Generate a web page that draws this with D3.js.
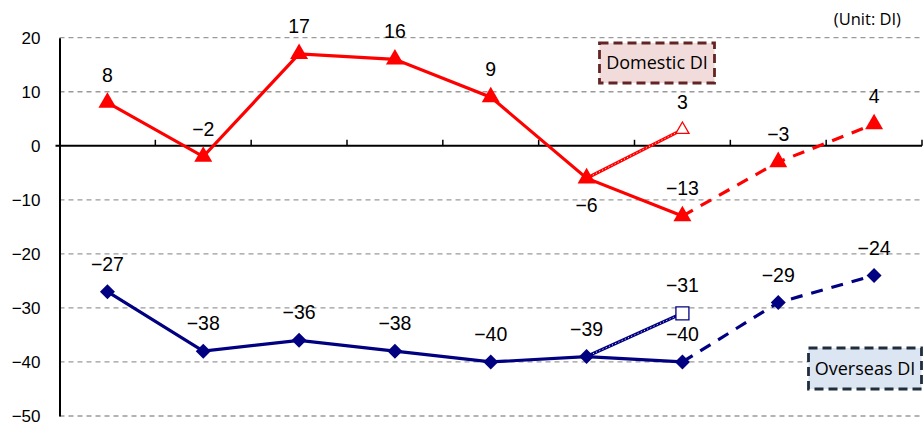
<!DOCTYPE html>
<html>
<head>
<meta charset="utf-8">
<script src="https://cdn.jsdelivr.net/npm/d3@7"></script>
<style>
  body { margin: 0; background: #fff; }
  text { font-family: "Liberation Sans", Arial, sans-serif; }
</style>
</head>
<body>
<svg width="923" height="423"></svg>
<script>
/* chart values */
var periods = ["p1", "p2", "p3", "p4", "p5", "p6", "p7", "p8", "p9"];
var yTicks = [20, 10, 0, -10, -20, -30, -40, -50];

var domesticActual = [8, -2, 17, 16, 9, -6, -13];        // periods 1-7
var domesticForecast = [-13, -3, 4];                     // periods 7-9
var domesticPrevious = [-6, 3];                          // periods 6-7

var overseasActual = [-27, -38, -36, -38, -40, -39, -40];
var overseasForecast = [-40, -29, -24];
var overseasPrevious = [-39, -31];

var svg = d3.select("svg"),
    plotLeft = 59.5, plotRight = 922, plotTop = 37.7, plotBottom = 416;

var x = d3.scaleBand().domain(periods).range([plotLeft, plotRight]);
var y = d3.scaleLinear().domain([-50, 20]).range([plotBottom, plotTop]);

function cx(i) { return x(periods[i]) + x.bandwidth() / 2; }

/* turn a series into points, starting at period index 'start' */
function pts(values, start) {
  return values.map(function(v, i) { return { i: start + i, v: v }; });
}

var line = d3.line()
    .x(function(d) { return cx(d.i); })
    .y(function(d) { return y(d.v); });

/* dashed gridlines */
svg.append("g").selectAll("line")
  .data(yTicks.filter(function(t) { return t !== 0; }))
  .enter().append("line")
    .attr("x1", plotLeft).attr("x2", plotRight)
    .attr("y1", function(d) { return y(d); })
    .attr("y2", function(d) { return y(d); })
    .attr("stroke", "#9a9a9a")
    .attr("stroke-width", 1.3)
    .attr("stroke-dasharray", "5,4");

/* y axis */
var yAxis = svg.append("g")
    .attr("transform", "translate(" + plotLeft + ",0)")
    .call(d3.axisLeft(y).tickValues(yTicks).tickSize(0).tickPadding(19)
      .tickFormat(function(d) { return String(d).replace("-", "\u2212"); }));
yAxis.select(".domain").attr("stroke", "#000").attr("stroke-width", 2);
yAxis.selectAll("text").attr("font-size", 17).attr("fill", "#000");

/* zero line with category tick marks */
svg.append("line")
    .attr("x1", plotLeft - 4).attr("x2", plotRight)
    .attr("y1", y(0)).attr("y2", y(0))
    .attr("stroke", "#000").attr("stroke-width", 2);

svg.append("g").selectAll("line")
  .data(periods)
  .enter().append("line")
    .attr("x1", function(d) { return x(d) + x.step(); })
    .attr("x2", function(d) { return x(d) + x.step(); })
    .attr("y1", y(0)).attr("y2", y(0) - 6)
    .attr("stroke", "#000").attr("stroke-width", 1.5);

/* draw one DI series */
function drawSeries(color, actual, forecast, previous, symbol, hollowSymbol, labelBelow) {
  var g = svg.append("g");

  var prevPts = pts(previous, actual.length - 2);
  g.append("path").datum(prevPts)
    .attr("d", line).attr("fill", "none")
    .attr("stroke", color).attr("stroke-width", 3.2);
  g.append("path").datum(prevPts)
    .attr("d", line).attr("fill", "none")
    .attr("stroke", "#fff").attr("stroke-width", 1)
    .attr("stroke-dasharray", "1,2.5");

  g.append("path").datum(pts(actual, 0))
    .attr("d", line).attr("fill", "none")
    .attr("stroke", color).attr("stroke-width", 3.2);

  var fcPts = pts(forecast, actual.length - 1);
  g.append("path").datum(fcPts)
    .attr("d", line).attr("fill", "none")
    .attr("stroke", color).attr("stroke-width", 3.2)
    .attr("stroke-dasharray", "12,9");

  var marks = pts(actual, 0).concat(fcPts.slice(1));
  g.selectAll(".mark").data(marks)
    .enter().append("path")
      .attr("class", "mark")
      .attr("d", symbol)
      .attr("transform", function(d) { return "translate(" + cx(d.i) + "," + y(d.v) + ")"; })
      .attr("fill", color);

  var hollow = prevPts[prevPts.length - 1];
  g.append("path")
    .attr("d", hollowSymbol)
    .attr("transform", "translate(" + cx(hollow.i) + "," + y(hollow.v) + ")")
    .attr("fill", "#fff").attr("stroke", color).attr("stroke-width", 1.3);

  var labels = marks.concat([hollow]);
  g.selectAll(".lbl").data(labels)
    .enter().append("text")
      .attr("class", "lbl")
      .attr("x", function(d) { return cx(d.i); })
      .attr("y", function(d) {
        var below = labelBelow.indexOf(d.i) >= 0 && actual[d.i] === d.v;
        return y(d.v) + (below ? 27 : -28);
      })
      .attr("dy", "0.36em")
      .attr("text-anchor", "middle")
      .attr("font-size", 19.5)
      .text(function(d) { return String(d.v).replace("-", "\u2212"); });
}

var tri = d3.symbol().type(d3.symbolTriangle).size(140)();
var triHollow = d3.symbol().type(d3.symbolTriangle).size(75)();
var diamond = "M0,-7.5L7.5,0L0,7.5L-7.5,0Z";
var square = "M-6.5,-6.5H6.5V6.5H-6.5Z";

drawSeries("#ff0000", domesticActual, domesticForecast, domesticPrevious, tri, triHollow, [5]);
drawSeries("#000080", overseasActual, overseasForecast, overseasPrevious, diamond, square, []);

/* legend boxes */
function box(x0, y0, w, h, fill, stroke, label) {
  svg.append("rect")
    .attr("x", x0).attr("y", y0).attr("width", w).attr("height", h)
    .attr("fill", fill).attr("stroke", stroke)
    .attr("stroke-width", 2.8).attr("stroke-dasharray", "9,5");
  svg.append("text")
    .attr("x", x0 + w / 2).attr("y", y0 + h / 2)
    .attr("dy", "0.36em").attr("text-anchor", "middle")
    .style("font-family", "'Open Sans', 'Noto Sans', sans-serif")
    .style("font-size", "18px").attr("fill", "#000")
    .text(label);
}
box(599.5, 43, 115, 40, "#f2dcdb", "#632523", "Domestic DI");
box(808.5, 348, 113, 41, "#dce6f2", "#1f2d3d", "Overseas DI");

svg.append("text")
    .attr("x", 901).attr("y", 19).attr("dy", "0.36em")
    .attr("text-anchor", "end")
    .style("font-family", "'Open Sans', 'Noto Sans', sans-serif")
    .style("font-size", "16.5px")
    .text("(Unit: DI)");
</script>
</body>
</html>
